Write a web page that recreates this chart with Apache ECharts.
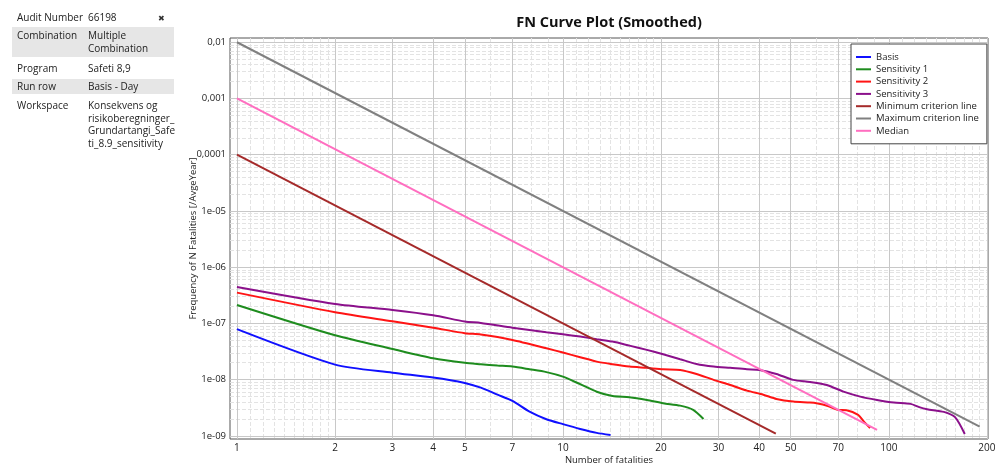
<!DOCTYPE html>
<html>
<head>
<meta charset="utf-8">
<script src="https://cdn.jsdelivr.net/npm/echarts@6/dist/echarts.min.js"></script>
<style>
  html, body { margin: 0; padding: 0; background: #fff; }
  #wrap { position: relative; width: 1008px; height: 466px; overflow: hidden; font-family: "Open Sans", sans-serif; }
  #chart { position: absolute; left: 0; top: 0; width: 1008px; height: 466px; }
  .bg { position: absolute; background: #e6e6e6; }
  .t { position: absolute; font-size: 10px; line-height: 12px; height: 12px; color: #222; white-space: nowrap; }
</style>
</head>
<body>
<div id="wrap">
  <div id="chart"></div>
  <div class="bg" style="left:12px;top:27px;width:162px;height:30px;"></div>
  <div class="bg" style="left:12px;top:79px;width:162px;height:15px;"></div>
  <div class="t" style="left:17px;top:11px;">Audit Number</div>
  <div class="t" style="left:88px;top:11px;">66198</div>
  <div class="t" style="left:158px;top:12px;font-size:8px;color:#333;">✖</div>
  <div class="t" style="left:17px;top:29px;">Combination</div>
  <div class="t" style="left:88px;top:29px;">Multiple</div>
  <div class="t" style="left:88px;top:42px;">Combination</div>
  <div class="t" style="left:17px;top:62px;">Program</div>
  <div class="t" style="left:88px;top:62px;">Safeti 8,9</div>
  <div class="t" style="left:17px;top:80px;">Run row</div>
  <div class="t" style="left:88px;top:80px;">Basis - Day</div>
  <div class="t" style="left:17px;top:99px;">Workspace</div>
  <div class="t" style="left:88px;top:99px;">Konsekvens og</div>
  <div class="t" style="left:88px;top:111.5px;">risikoberegninger_</div>
  <div class="t" style="left:88px;top:124px;">Grundartangi_Safe</div>
  <div class="t" style="left:88px;top:136.5px;">ti_8.9_sensitivity</div>
</div>
<script>
// ---- Data ----
const basisN = [1, 2, 3, 4, 5, 5.6, 6.3, 7, 7.9, 8.9, 10, 11.3, 12.7, 14];
const basisF = [7.9e-8, 1.85e-8, 1.33e-8, 1.09e-8, 8.75e-9, 7.2e-9, 5.4e-9, 4.2e-9, 2.7e-9, 1.98e-9, 1.62e-9, 1.33e-9, 1.13e-9, 1.04e-9];

const sens1N = [1, 2, 3, 4, 5, 5.6, 6.3, 7, 7.9, 8.9, 10, 11.3, 12.7, 14.2, 16, 18.1, 20.3, 22.9, 25.1, 27];
const sens1F = [2.13e-7, 6.16e-8, 3.52e-8, 2.4e-8, 1.99e-8, 1.88e-8, 1.78e-8, 1.71e-8, 1.53e-8, 1.36e-8, 1.13e-8, 8.3e-9, 6.1e-9, 5.1e-9, 4.87e-9, 4.36e-9, 3.81e-9, 3.45e-9, 2.9e-9, 2.0e-9];

const sens2N = [1, 2, 3, 4, 5, 5.6, 7, 8.9, 10, 11.3, 12.7, 14.2, 16, 18.1, 20.3, 22.9, 25.7, 29, 32.6, 36.7, 41.2, 45.2, 50.9, 57.3, 60, 65, 69.6, 74.2, 80.5, 83.5, 87.6];
const sens2F = [3.53e-7, 1.58e-7, 1.09e-7, 8.4e-8, 6.7e-8, 6.35e-8, 5.09e-8, 3.62e-8, 3.03e-8, 2.51e-8, 2.09e-8, 1.88e-8, 1.71e-8, 1.62e-8, 1.53e-8, 1.49e-8, 1.26e-8, 9.9e-9, 8.05e-9, 6.38e-9, 5.4e-9, 4.54e-9, 4.07e-9, 3.91e-9, 3.8e-9, 3.4e-9, 2.9e-9, 2.85e-9, 2.36e-9, 1.85e-9, 1.37e-9];

const sens3N = [1, 2, 3, 4, 5, 5.6, 7, 8.9, 10, 11.3, 12.7, 14.2, 16, 18.1, 20.3, 22.9, 25.7, 29, 32.6, 36.7, 40.1, 45.2, 50.9, 57.3, 64.5, 72.6, 81.7, 92, 103.6, 116.6, 124, 131, 147.5, 159.6, 171];
const sens3F = [4.45e-7, 2.22e-7, 1.74e-7, 1.4e-7, 1.08e-7, 1.02e-7, 8.41e-8, 6.97e-8, 6.41e-8, 5.83e-8, 5.24e-8, 4.75e-8, 4.03e-8, 3.38e-8, 2.83e-8, 2.31e-8, 1.9e-8, 1.71e-8, 1.62e-8, 1.53e-8, 1.49e-8, 1.26e-8, 9.9e-9, 9.1e-9, 8.05e-9, 6.12e-9, 4.99e-9, 4.36e-9, 3.91e-9, 3.71e-9, 3.24e-9, 2.98e-9, 2.67e-9, 2.15e-9, 1.08e-9];

const minCritN = [1, 45];
const minCritF = [1e-4, 1.1e-9];
const maxCritN = [1, 190];
const maxCritF = [1e-2, 1.46e-9];
const medianN = [1, 92];
const medianF = [1e-3, 1.28e-9];

const seriesNames = ['Basis', 'Sensitivity 1', 'Sensitivity 2', 'Sensitivity 3', 'Minimum criterion line', 'Maximum criterion line', 'Median'];
const seriesColors = ['#1010ff', '#1e8c1e', '#ff1414', '#8b108b', '#a52a2a', '#808080', '#ff6ec0'];

const xTickValues = [1, 2, 3, 4, 5, 7, 10, 20, 30, 40, 50, 70, 100, 200];
const xMinorValues = [1.1, 1.2, 1.3, 1.4, 1.5, 1.6, 1.7, 1.8, 1.9, 6, 8, 9, 11, 12, 13, 14, 15, 16, 17, 18, 19, 60, 80, 90, 110, 120, 130, 140, 150, 160, 170, 180, 190];
const yTickValues = [1e-9, 1e-8, 1e-7, 1e-6, 1e-5, 1e-4, 1e-3, 1e-2];
const yMinorMult = [2, 3, 4, 5, 6, 7, 8, 9];
const yMinorValues = [];
[1e-9, 1e-8, 1e-7, 1e-6, 1e-5, 1e-4, 1e-3].forEach(d => yMinorMult.forEach(m => yMinorValues.push(+(m * d).toPrecision(3))));

// axis range (small padding beyond first/last tick, as in the reference)
const X_MIN = 0.952, X_MAX = 201.5;
const Y_MIN = 8.8e-10, Y_MAX = 0.0119;

function pairs(xs, ys) { return xs.map((x, i) => [x, ys[i]]); }
const allData = [
  pairs(basisN, basisF), pairs(sens1N, sens1F), pairs(sens2N, sens2F), pairs(sens3N, sens3F),
  pairs(minCritN, minCritF), pairs(maxCritN, maxCritF), pairs(medianN, medianF)
];

function yLabel(v) {
  const e = Math.round(Math.log10(v));
  if (e >= -4) return '0,' + '0'.repeat(-e - 1) + '1';
  return '1e-' + (e > -10 ? '0' : '') + (-e);
}

const FONT = '"Open Sans", sans-serif';
const chart = echarts.init(document.getElementById('chart'), null, { renderer: 'canvas' });
chart.setOption({
  animation: false,
  backgroundColor: '#ffffff',
  title: {
    text: 'FN Curve Plot (Smoothed)',
    left: 609, top: 15, padding: 0, textAlign: 'center',
    textStyle: { fontFamily: FONT, fontSize: 14.5, fontWeight: 'bold', color: '#111' }
  },
  legend: {
    orient: 'vertical', left: 851, top: 44,
    padding: [7, 8, 7, 5], itemGap: 0.3,
    backgroundColor: '#fff', borderColor: '#444', borderWidth: 1,
    icon: 'rect', itemWidth: 15, itemHeight: 2,
    textStyle: { fontFamily: FONT, fontSize: 9.5, lineHeight: 12, color: '#222' },
    data: seriesNames
  },
  grid: { left: 230, right: 20, top: 38, bottom: 27, outerBoundsMode: 'none', containLabel: false,
          show: true, borderColor: '#555', borderWidth: 1, backgroundColor: '#fff' },
  xAxis: [{
    type: 'log', logBase: 10, min: X_MIN, max: X_MAX,
    name: 'Number of fatalities', nameLocation: 'middle', nameGap: 16, nameMoveOverlap: false,
    nameTextStyle: { fontFamily: FONT, fontSize: 9.5, color: '#222', verticalAlign: 'top' },
    axisLine: { show: false }, axisTick: { show: false, customValues: xTickValues },
    axisLabel: { customValues: xTickValues, formatter: v => String(Math.round(v)), margin: 4, fontFamily: FONT, fontSize: 10, color: '#222' },
    splitLine: { show: true, lineStyle: { color: '#c8c8c8', width: 1 } },
    z: 1
  }, {
    type: 'log', logBase: 10, min: X_MIN, max: X_MAX, position: 'top',
    axisLine: { show: false }, axisTick: { show: false, customValues: xMinorValues },
    axisLabel: { show: false, customValues: xMinorValues },
    splitLine: { show: true, lineStyle: { color: '#e3e3e3', width: 1, type: [4, 2] } },
    z: 0
  }],
  yAxis: [{
    type: 'log', logBase: 10, min: Y_MIN, max: Y_MAX,
    name: 'Frequency of N Fatalities [/AvgeYear]', nameLocation: 'middle', nameGap: 32, nameMoveOverlap: false,
    nameTextStyle: { fontFamily: FONT, fontSize: 9.5, color: '#222' },
    axisLine: { show: false }, axisTick: { show: false, customValues: yTickValues },
    axisLabel: { customValues: yTickValues, formatter: yLabel, margin: 4, fontFamily: FONT, fontSize: 9.5, color: '#222' },
    splitLine: { show: true, lineStyle: { color: '#c8c8c8', width: 1 } },
    z: 1
  }, {
    type: 'log', logBase: 10, min: Y_MIN, max: Y_MAX, position: 'right',
    axisLine: { show: false }, axisTick: { show: false, customValues: yMinorValues },
    axisLabel: { show: false, customValues: yMinorValues },
    splitLine: { show: true, lineStyle: { color: '#e3e3e3', width: 1, type: [4, 2] } },
    z: 0
  }],
  series: seriesNames.map((name, i) => ({
    name: name,
    type: 'line',
    xAxisIndex: 0, yAxisIndex: 0,
    data: allData[i],
    showSymbol: false,
    symbol: 'none',
    smooth: i < 4 ? 0.25 : false,
    color: seriesColors[i],
    lineStyle: { width: 2, color: seriesColors[i] },
    z: 3
  }))
});
</script>
</body>
</html>
